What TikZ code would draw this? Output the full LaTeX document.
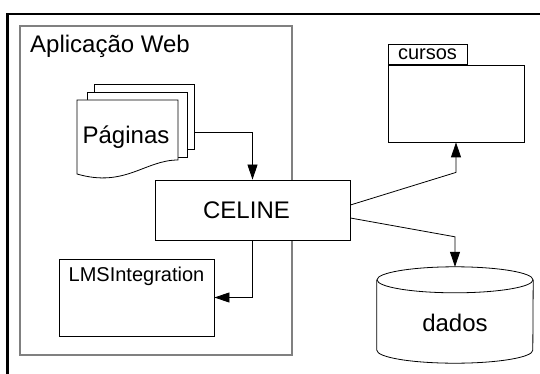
\documentclass[tikz,border=0pt]{standalone}
\usepackage{fontspec}
\setmainfont{Liberation Sans}
\usetikzlibrary{arrows.meta}

\begin{document}
\begin{tikzpicture}[
        x=1pt, y=-1pt,
        box/.style={draw, fill=white, line width=0.8pt, inner sep=0pt},
        page/.style={box, minimum width=100pt, minimum height=65pt},
        group/.style={draw=gray, line width=1.4pt, inner sep=0pt},
        big/.style={font=\fontsize{24}{28}\selectfont, inner sep=0pt},
        small/.style={font=\fontsize{20}{24}\selectfont, inner sep=0pt},
        arr/.style={draw, line width=0.8pt, -{Triangle[length=15pt, width=10pt]}},
    ]
    \useasboundingbox (0,0) rectangle (540,374);
    \draw[line width=2.7pt] (7.3,374) -- (7.3,14) -- (540,14);
    \node[group, minimum width=272pt, minimum height=329pt] (web) at (156,190.5) {};
    \node[big, anchor=base west] (webtitle) at (30,53) {Aplicação Web};
    \node[page] (pag3) at (144,116.5) {};
    \node[page] (pag2) at (137,124.5) {};
    \draw[box] (77,100) -- (178,100) -- (178,160) .. controls (145,160) and (125,188) .. (77,174) -- cycle;
    \node[big, anchor=base] (pag) at (126,143.3) {Páginas};
    \node[box, minimum width=195pt, minimum height=60pt,
        label={[big, xshift=-6pt]center:CELINE}] (celine) at (252.5,210) {};
    \node[box, minimum width=155pt, minimum height=77pt] (lms) at (136.5,297.5) {};
    \node[small, anchor=base] (lmstext) at ([yshift=-23pt]lms.north) {LMSIntegration};
    \node[box, minimum width=136pt, minimum height=77pt] (cursos) at (456,103.5) {};
    \node[box, small, anchor=south west, minimum width=79pt, minimum height=20pt] (tab) at (cursos.north west) {cursos};
    \node[minimum width=156pt, minimum height=96pt, inner sep=0pt,
        label={[big, yshift=-8pt]center:dados}] (dados) at (455,315) {};
    \draw[line width=0.8pt] ([yshift=-13pt]dados.north west) -- ([yshift=13pt]dados.south west)
        arc[start angle=180, end angle=360, x radius=78pt, y radius=13pt] -- ([yshift=-13pt]dados.north east);
    \draw[line width=0.8pt] ([yshift=-13pt]dados.north) ellipse [x radius=78pt, y radius=13pt];
    \draw[arr] ([yshift=-15.5pt]pag3.east) -| (celine.north);
    \draw[arr] (celine.south) |- (lms.east);
    \draw[arr] ([yshift=5pt]celine.east) -- ([yshift=-30pt]cursos.south) -- (cursos.south);
    \draw[arr] ([yshift=-8pt]celine.east) -- ([yshift=30pt]dados.north) -- (dados.north);
\end{tikzpicture}
\end{document}
